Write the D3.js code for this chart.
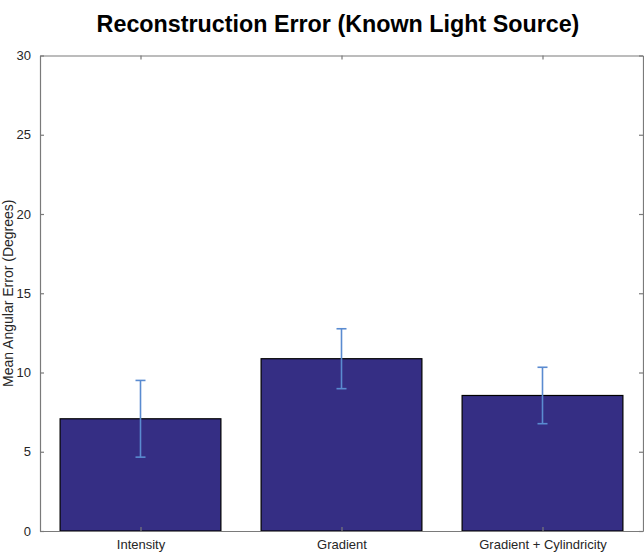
<!DOCTYPE html>
<html>
<head>
<meta charset="utf-8">
<script src="https://cdn.jsdelivr.net/npm/d3@7"></script>
<style>
  body { margin: 0; background: #fff; }
  text { font-family: "Liberation Sans", Arial, sans-serif; }
</style>
</head>
<body>
<div id="chart-area"></div>
<script>
const categories = ["Intensity", "Gradient", "Gradient + Cylindricity"]
const means = [7.08, 10.87, 8.55]
const errors = [2.42, 1.89, 1.78]
const yTicks = [0, 5, 10, 15, 20, 25, 30]

const W = 644, H = 555
const MARGIN = {LEFT: 40, RIGHT: 1, TOP: 55.5, BOTTOM: 24}
const WIDTH = W - MARGIN.LEFT - MARGIN.RIGHT
const HEIGHT = H - MARGIN.TOP - MARGIN.BOTTOM

const svg = d3.select("#chart-area").append("svg")
  .attr("width", W)
  .attr("height", H)

const g = svg.append("g")
  .attr("transform", `translate(${MARGIN.LEFT}, ${MARGIN.TOP})`)

// MATLAB style: x limits 0.5 .. 3.5, bar width 0.8
const x = d3.scaleLinear()
  .domain([0.5, categories.length + 0.5])
  .range([0, WIDTH])

const y = d3.scaleLinear()
  .domain([0, 30])
  .range([HEIGHT, 0])

const barW = x(1.4) - x(0.6)

// bars
g.selectAll("rect.bar").data(means)
  .enter().append("rect")
  .attr("class", "bar")
  .attr("x", (d, i) => x(i + 1) - barW / 2)
  .attr("y", d => y(d))
  .attr("width", barW)
  .attr("height", d => y(0) - y(d))
  .attr("fill", "#352e84")
  .attr("stroke", "#000")
  .attr("stroke-width", 1.2)

// error bars
const errColor = "#5a8bd0"
const capW = 5
const eb = g.selectAll("g.err").data(means)
  .enter().append("g")
  .attr("class", "err")
eb.append("line")
  .attr("x1", (d, i) => x(i + 1)).attr("x2", (d, i) => x(i + 1))
  .attr("y1", (d, i) => y(d - errors[i])).attr("y2", (d, i) => y(d + errors[i]))
  .attr("stroke", errColor).attr("stroke-width", 1.6)
eb.append("line")
  .attr("x1", (d, i) => x(i + 1) - capW).attr("x2", (d, i) => x(i + 1) + capW)
  .attr("y1", (d, i) => y(d + errors[i])).attr("y2", (d, i) => y(d + errors[i]))
  .attr("stroke", errColor).attr("stroke-width", 1.6)
eb.append("line")
  .attr("x1", (d, i) => x(i + 1) - capW).attr("x2", (d, i) => x(i + 1) + capW)
  .attr("y1", (d, i) => y(d - errors[i])).attr("y2", (d, i) => y(d - errors[i]))
  .attr("stroke", errColor).attr("stroke-width", 1.6)

// axes
const axisColor = "#7a7a7a"
const tickLen = 4
const yAxisCall = d3.axisLeft(y).tickValues(yTicks).tickSizeInner(-tickLen).tickSizeOuter(0).tickPadding(9)
const yAxisGroup = g.append("g").call(yAxisCall)

const yRightCall = d3.axisRight(y).tickValues(yTicks).tickSizeInner(-tickLen).tickSizeOuter(0).tickFormat("")
const yRightGroup = g.append("g").attr("transform", `translate(${WIDTH}, 0)`).call(yRightCall)

const xAxisCall = d3.axisBottom(x).tickValues(d3.range(1, categories.length + 1))
  .tickFormat(d => categories[d - 1]).tickSizeInner(-tickLen).tickSizeOuter(0).tickPadding(9)
const xAxisGroup = g.append("g").attr("transform", `translate(0, ${HEIGHT})`).call(xAxisCall)

const xTopCall = d3.axisTop(x).tickValues(d3.range(1, categories.length + 1))
  .tickFormat("").tickSizeInner(-tickLen).tickSizeOuter(0)
const xTopGroup = g.append("g").call(xTopCall)

;[yAxisGroup, yRightGroup, xAxisGroup, xTopGroup].forEach(a => {
  a.select(".domain").attr("stroke", axisColor).attr("stroke-width", 1.2)
  a.selectAll(".tick line").attr("stroke", axisColor).attr("stroke-width", 1.2)
  a.selectAll(".tick text").attr("fill", "#262626").attr("font-size", "13px")
    .style("font-family", "Liberation Sans, Arial, sans-serif")
})

// title
svg.append("text")
  .attr("x", 338)
  .attr("y", 32)
  .attr("text-anchor", "middle")
  .attr("font-size", "23.3px")
  .attr("font-weight", "bold")
  .attr("fill", "#000")
  .text("Reconstruction Error (Known Light Source)")

// y label
svg.append("text")
  .attr("transform", `translate(13, ${MARGIN.TOP + HEIGHT / 2}) rotate(-90)`)
  .attr("text-anchor", "middle")
  .attr("font-size", "14px")
  .attr("fill", "#262626")
  .text("Mean Angular Error (Degrees)")
</script>
</body>
</html>
